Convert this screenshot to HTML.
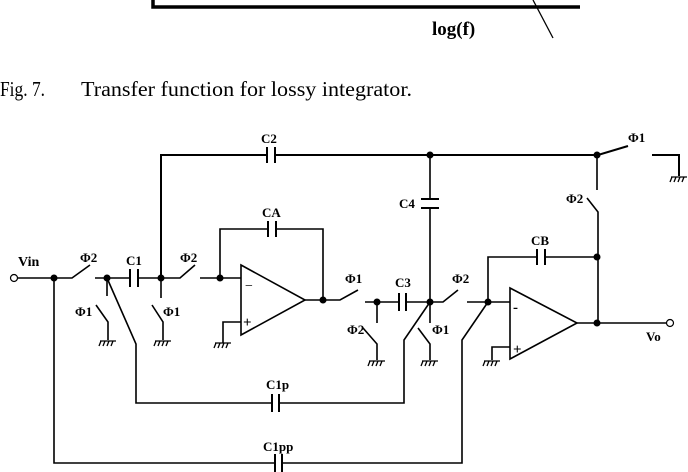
<!DOCTYPE html>
<html><head><meta charset="utf-8"><style>
html,body{margin:0;padding:0;background:#fff}
svg{display:block}
text{font-family:"Liberation Serif",serif;fill:#000}
.b{font-weight:bold}
.n{font-weight:normal}
</style></head><body>
<svg width="688" height="472" viewBox="0 0 688 472" xmlns="http://www.w3.org/2000/svg">
<g stroke="#000" fill="none" stroke-width="1.6">
<path d="M153 0 V7 H580" stroke-width="3.5"/>
<path d="M533 0 L553 38" stroke-width="1.3"/>
<path d="M161 278 V155 H267 M275 155 H598 L628 146 M652 155 H679 V176" stroke-width="2"/>
<path d="M267 147 V163 M275 147 V163" stroke-width="2"/>
<path d="M18 278 H54 H72 L90 265 M95 278 H130 M138 278 H161 H180 L195 265 M200 278 H241"/>
<path d="M130 269 V287 M138 269 V287" stroke-width="2"/>
<path d="M54 278 V463 H275 M282 463 H462 V340 L488 302"/>
<path d="M275 454 V472 M282 454 V472" stroke-width="2"/>
<path d="M107 278 V296 M96 305 L108 322 V340"/>
<path d="M107 278 L136 344 V403 H272 M279 403 H404 V340 L430 302"/>
<path d="M272 394 V412 M279 394 V412" stroke-width="2"/>
<path d="M161 278 V298 M152 305 L163 322 V340"/>
<path d="M241 265 L305 300 L241 335 Z"/>
<path d="M220 278 V229 H268 M276 229 H323 V300 M305 300 H340 L358 290 M223 343 V322 H241"/>
<path d="M268 221 V237 M276 221 V237" stroke-width="2"/>
<path d="M365 302 H399 M406 302 H430 H443 L458 290 M467 302 H510"/>
<path d="M399 293 V311 M406 293 V311" stroke-width="2"/>
<path d="M377 302 V323 M363 328 L377 344 V360"/>
<path d="M430 302 V323 M418 328 L430 344 V360"/>
<path d="M430 155 V199 M430 208 V302"/>
<path d="M421 199 H439 M421 208 H439" stroke-width="2"/>
<path d="M597 155 V190 M587 198 L598 212 V323"/>
<path d="M488 302 V257 H537 M545 257 H597"/>
<path d="M537 249 V265 M545 249 V265" stroke-width="2"/>
<path d="M510 288 L577 323 L510 359 Z"/>
<path d="M577 323 H666 M492 360 V347 H510"/>
</g>
<g fill="#000">
<circle cx="54" cy="278" r="3.5"/><circle cx="107" cy="278" r="3.5"/><circle cx="161" cy="278" r="3.5"/>
<circle cx="220" cy="278" r="3.5"/><circle cx="323" cy="300" r="3.5"/><circle cx="377" cy="302" r="3.5"/>
<circle cx="430" cy="302" r="3.5"/><circle cx="488" cy="302" r="3.5"/><circle cx="430" cy="155" r="3.5"/>
<circle cx="597" cy="155" r="3.5"/><circle cx="597" cy="257" r="3.5"/><circle cx="597" cy="323" r="3.5"/>
</g>
<g fill="#fff" stroke="#000" stroke-width="1.2">
<circle cx="14" cy="278" r="3.5"/><circle cx="670" cy="323" r="3.5"/>
</g>
<g stroke="#000" stroke-width="1.3">
<path d="M100 341 H116 M101 341 l-2 5 M105 341 l-2 5 M109 341 l-2 5 M113 341 l-2 5"/>
<path d="M155 341 H171 M156 341 l-2 5 M160 341 l-2 5 M164 341 l-2 5 M168 341 l-2 5"/>
<path d="M215 343 H231 M216 343 l-2 5 M220 343 l-2 5 M224 343 l-2 5 M228 343 l-2 5"/>
<path d="M369 361 H385 M370 361 l-2 5 M374 361 l-2 5 M378 361 l-2 5 M382 361 l-2 5"/>
<path d="M422 361 H438 M423 361 l-2 5 M427 361 l-2 5 M431 361 l-2 5 M435 361 l-2 5"/>
<path d="M484 361 H500 M485 361 l-2 5 M489 361 l-2 5 M493 361 l-2 5 M497 361 l-2 5"/>
<path d="M671 177 H687 M672 177 l-2 5 M676 177 l-2 5 M680 177 l-2 5 M684 177 l-2 5"/>
</g>
<g font-size="13">
<text class="b" x="18" y="266" font-size="14">Vin</text>
<text class="b" x="80" y="262">Φ2</text>
<text class="b" x="126" y="265">C1</text>
<text class="b" x="180" y="262">Φ2</text>
<text class="b" x="75" y="316">Φ1</text>
<text class="b" x="163" y="316">Φ1</text>
<text class="b" x="261" y="143">C2</text>
<text class="b" x="262" y="217">CA</text>
<text class="b" x="345" y="283">Φ1</text>
<text class="b" x="395" y="287">C3</text>
<text class="b" x="452" y="283">Φ2</text>
<text class="b" x="347" y="334">Φ2</text>
<text class="b" x="432" y="334">Φ1</text>
<text class="b" x="399" y="208">C4</text>
<text class="b" x="566" y="203">Φ2</text>
<text class="b" x="531" y="245">CB</text>
<text class="b" x="628" y="142">Φ1</text>
<text class="b" x="646" y="341">Vo</text>
<text class="b" x="266" y="389">C1p</text>
<text class="b" x="263" y="451">C1pp</text>
<text class="n" x="245" y="290" font-size="14">−</text>
<text class="b" x="243" y="327" font-size="15">+</text>
<text class="b" x="513" y="312" font-size="15">-</text>
<text class="b" x="513" y="354" font-size="15">+</text>
</g>
<text class="b" x="432" y="35" font-size="19">log(f)</text>
<text class="n" x="0" y="96" font-size="21" textLength="45" lengthAdjust="spacingAndGlyphs">Fig. 7.</text>
<text class="n" x="81" y="96" font-size="21" textLength="331" lengthAdjust="spacingAndGlyphs">Transfer function for lossy integrator.</text>
</svg>
</body></html>
